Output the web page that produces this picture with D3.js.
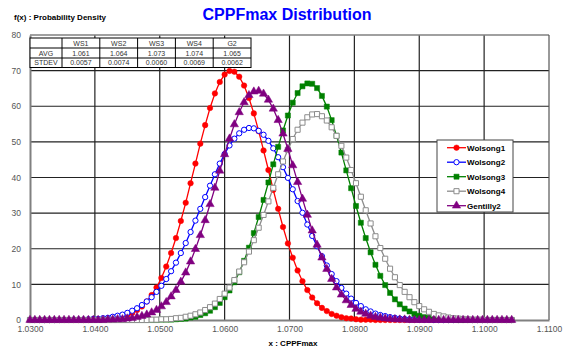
<!DOCTYPE html>
<html>
<head>
<meta charset="utf-8">
<script src="https://cdn.jsdelivr.net/npm/d3@7"></script>
<style>
  body { margin: 0; background: #fff; }
  svg { display: block; font-family: "Liberation Sans", Arial, sans-serif; }
</style>
</head>
<body>
<div id="chart"></div>
<script>
// x grid of the curves (CPPFmax)
var xValues = [
  1.03, 1.03075, 1.0315, 1.03225, 1.033, 1.03375, 1.0345, 1.03525, 1.036, 1.03675,
  1.0375, 1.03825, 1.039, 1.03975, 1.0405, 1.04125, 1.042, 1.04275, 1.0435, 1.04425,
  1.045, 1.04575, 1.0465, 1.04725, 1.048, 1.04875, 1.0495, 1.05025, 1.051, 1.05175,
  1.0525, 1.05325, 1.054, 1.05475, 1.0555, 1.05625, 1.057, 1.05775, 1.0585, 1.05925,
  1.06, 1.06075, 1.0615, 1.06225, 1.063, 1.06375, 1.0645, 1.06525, 1.066, 1.06675,
  1.0675, 1.06825, 1.069, 1.06975, 1.0705, 1.07125, 1.072, 1.07275, 1.0735, 1.07425,
  1.075, 1.07575, 1.0765, 1.07725, 1.078, 1.07875, 1.0795, 1.08025, 1.081, 1.08175,
  1.0825, 1.08325, 1.084, 1.08475, 1.0855, 1.08625, 1.087, 1.08775, 1.0885, 1.08925,
  1.09, 1.09075, 1.0915, 1.09225, 1.093, 1.09375, 1.0945, 1.09525, 1.096, 1.09675,
  1.0975, 1.09825, 1.099, 1.09975, 1.1005, 1.10125, 1.102, 1.10275, 1.1035, 1.10425
];

var wolsong1 = [
  0, 0, 0, 0, 0, 0, 0, 0, 0, 0,
  0, 0, 0, 0.1, 0.1, 0.2, 0.3, 0.4, 0.6, 0.9,
  1.4, 2.0, 2.8, 3.8, 5.2, 7.0, 9.1, 11.8, 15.0, 18.8,
  23.0, 27.8, 32.9, 38.4, 43.9, 49.5, 54.7, 59.5, 63.6, 66.8,
  68.9, 69.9, 69.7, 68.3, 65.8, 62.3, 58.0, 53.0, 47.6, 42.1,
  36.5, 31.2, 26.1, 21.5, 17.5, 13.9, 10.9, 8.4, 6.3, 4.7,
  3.4, 2.5, 1.7, 1.2, 0.8, 0.5, 0.4, 0.2, 0.1, 0.1,
  0.1, 0, 0, 0, 0, 0, 0, 0, 0, 0,
  0, 0, 0, 0, 0, 0, 0, 0, 0, 0,
  0, 0, 0, 0, 0, 0, 0, 0, 0, 0
];
var wolsong2 = [
  0, 0, 0, 0, 0, 0, 0, 0, 0, 0.1,
  0.1, 0.1, 0.2, 0.3, 0.3, 0.5, 0.6, 0.9, 1.2, 1.5,
  2.0, 2.6, 3.3, 4.2, 5.2, 6.4, 7.9, 9.6, 11.5, 13.7,
  16.1, 18.8, 21.6, 24.7, 27.9, 31.2, 34.5, 37.7, 40.9, 43.9,
  46.6, 49.0, 50.9, 52.4, 53.4, 53.9, 53.8, 53.1, 52.0, 50.3,
  48.2, 45.7, 42.9, 39.9, 36.7, 33.4, 30.1, 26.8, 23.6, 20.7,
  17.9, 15.3, 12.9, 10.9, 9.0, 7.4, 6.0, 4.8, 3.9, 3.0,
  2.4, 1.8, 1.4, 1.1, 0.8, 0.6, 0.4, 0.3, 0.2, 0.2,
  0.1, 0.1, 0.1, 0, 0, 0, 0, 0, 0, 0,
  0, 0, 0, 0, 0, 0, 0, 0, 0, 0
];
var wolsong3 = [
  0, 0, 0, 0, 0, 0, 0, 0, 0, 0,
  0, 0, 0, 0, 0, 0, 0, 0, 0, 0,
  0, 0, 0, 0, 0, 0, 0, 0.1, 0.1, 0.1,
  0.2, 0.3, 0.4, 0.7, 0.9, 1.4, 1.9, 2.6, 3.6, 4.8,
  6.4, 8.3, 10.6, 13.4, 16.6, 20.3, 24.4, 28.9, 33.7, 38.6,
  43.7, 48.6, 53.2, 57.4, 61.0, 63.7, 65.6, 66.4, 66.3, 65.1,
  62.9, 59.9, 56.1, 51.7, 47.0, 42.0, 37.0, 32.0, 27.3, 23.0,
  19.0, 15.5, 12.4, 9.8, 7.6, 5.8, 4.4, 3.2, 2.4, 1.7,
  1.2, 0.8, 0.6, 0.4, 0.3, 0.2, 0.1, 0.1, 0, 0,
  0, 0, 0, 0, 0, 0, 0, 0, 0, 0
];
var wolsong4 = [
  0, 0, 0, 0, 0, 0, 0, 0, 0, 0,
  0, 0, 0, 0, 0, 0, 0, 0, 0, 0,
  0, 0, 0, 0, 0, 0.1, 0.1, 0.2, 0.2, 0.3,
  0.5, 0.6, 0.9, 1.2, 1.6, 2.1, 2.8, 3.6, 4.6, 5.9,
  7.4, 9.1, 11.2, 13.6, 16.2, 19.2, 22.4, 25.9, 29.5, 33.3,
  37.1, 40.9, 44.5, 47.8, 50.8, 53.4, 55.4, 56.9, 57.7, 57.8,
  57.2, 56.0, 54.1, 51.7, 48.9, 45.6, 42.1, 38.4, 34.6, 30.8,
  27.1, 23.5, 20.2, 17.2, 14.4, 12.0, 9.8, 7.9, 6.4, 5.0,
  3.9, 3.0, 2.3, 1.7, 1.3, 1.0, 0.7, 0.5, 0.4, 0.3,
  0.2, 0.1, 0.1, 0.1, 0, 0, 0, 0, 0, 0
];
var gentilly2 = [
  0, 0, 0, 0, 0, 0, 0, 0, 0, 0,
  0, 0, 0, 0, 0, 0, 0.1, 0.1, 0.2, 0.2,
  0.4, 0.5, 0.8, 1.1, 1.5, 2.1, 2.8, 3.8, 5.0, 6.6,
  8.4, 10.7, 13.3, 16.4, 19.9, 23.8, 28.0, 32.5, 37.1, 41.9,
  46.5, 50.9, 54.9, 58.3, 61.1, 63.1, 64.1, 64.3, 63.5, 61.8,
  59.3, 56.1, 52.3, 48.0, 43.4, 38.7, 34.0, 29.5, 25.1, 21.1,
  17.5, 14.3, 11.5, 9.1, 7.1, 5.5, 4.2, 3.1, 2.3, 1.7,
  1.2, 0.8, 0.6, 0.4, 0.3, 0.2, 0.1, 0.1, 0, 0,
  0, 0, 0, 0, 0, 0, 0, 0, 0, 0,
  0, 0, 0, 0, 0, 0, 0, 0, 0, 0
];

var seriesNames = ["Wolsong1", "Wolsong2", "Wolsong3", "Wolsong4", "Gentilly2"];

// summary table
var tableHeads = ["WS1", "WS2", "WS3", "WS4", "G2"];
var tableAvg = ["1.061", "1.064", "1.073", "1.074", "1.065"];
var tableStdev = ["0.0057", "0.0074", "0.0060", "0.0069", "0.0062"];

var xTicks = [1.03, 1.04, 1.05, 1.06, 1.07, 1.08, 1.09, 1.10, 1.11];
var yTicks = [0, 10, 20, 30, 40, 50, 60, 70, 80];

var W = 565, H = 350;
var plotL = 30, plotR = 549, plotT = 35, plotB = 320;

var svg = d3.select("#chart").append("svg")
  .attr("width", W)
  .attr("height", H);

var x = d3.scaleLinear().domain([1.03, 1.11]).range([plotL, plotR]);
var y = d3.scaleLinear().domain([0, 80]).range([plotB, plotT]);

// grid lines
svg.append("g")
  .selectAll("line")
  .data(yTicks.slice(1, -1))
  .enter().append("line")
    .attr("x1", plotL).attr("x2", plotR)
    .attr("y1", function(d) { return y(d); })
    .attr("y2", function(d) { return y(d); })
    .attr("stroke", "#222").attr("stroke-width", 1.2);

svg.append("g")
  .selectAll("line")
  .data(xTicks.slice(1, -1))
  .enter().append("line")
    .attr("y1", plotT).attr("y2", plotB)
    .attr("x1", function(d) { return x(d); })
    .attr("x2", function(d) { return x(d); })
    .attr("stroke", "#222").attr("stroke-width", 1.2);

// plot frame
svg.append("line").attr("x1", plotL).attr("x2", plotR).attr("y1", plotT).attr("y2", plotT)
  .attr("stroke", "#808080").attr("stroke-width", 1.5);
svg.append("line").attr("x1", plotR).attr("x2", plotR).attr("y1", plotT).attr("y2", plotB)
  .attr("stroke", "#555").attr("stroke-width", 1.2);

// axes
var xAxis = svg.append("g")
  .attr("transform", "translate(0," + plotB + ")")
  .call(d3.axisBottom(x).tickValues(xTicks).tickFormat(d3.format(".4f")).tickSize(0).tickPadding(6));
var yAxis = svg.append("g")
  .attr("transform", "translate(" + plotL + ",0)")
  .call(d3.axisLeft(y).tickValues(yTicks).tickSize(0).tickPadding(9));

[xAxis, yAxis].forEach(function(a) {
  a.select(".domain").attr("stroke", "#808080").attr("stroke-width", 2);
  a.selectAll("text")
    .attr("fill", "#555")
    .style("font-size", "8.5px")
    .style("font-family", "'Liberation Sans', Arial, sans-serif");
});

// table
var colX = [30, 62, 99.8, 137.6, 175.4, 213.2, 251];
var rowY = [38, 48, 58, 67.5];
var tbl = svg.append("g");
tbl.append("rect")
  .attr("x", colX[0]).attr("y", rowY[0])
  .attr("width", colX[6] - colX[0]).attr("height", rowY[3] - rowY[0])
  .attr("fill", "#fff").attr("stroke", "#000").attr("stroke-width", 1);
rowY.slice(1, 3).forEach(function(r) {
  tbl.append("line").attr("x1", colX[0]).attr("x2", colX[6]).attr("y1", r).attr("y2", r)
    .attr("stroke", "#000").attr("stroke-width", 1);
});
colX.slice(1, 6).forEach(function(c) {
  tbl.append("line").attr("x1", c).attr("x2", c).attr("y1", rowY[0]).attr("y2", rowY[3])
    .attr("stroke", "#000").attr("stroke-width", 1);
});
var rows = [[""].concat(tableHeads), ["AVG"].concat(tableAvg), ["STDEV"].concat(tableStdev)];
rows.forEach(function(row, ri) {
  row.forEach(function(t, ci) {
    tbl.append("text")
      .attr("x", (colX[ci] + colX[ci + 1]) / 2)
      .attr("y", (rowY[ri] + rowY[ri + 1]) / 2 + 2.6)
      .attr("text-anchor", "middle")
      .attr("fill", "#333")
      .style("font-size", "7px")
      .text(t);
  });
});

// series
var seriesData = [wolsong1, wolsong2, wolsong3, wolsong4, gentilly2];
var colors = ["#ff0000", "#0000ff", "#008000", "#8c8c8c", "#800080"];
var symbols = [d3.symbolCircle, d3.symbolCircle, d3.symbolSquare, d3.symbolSquare, d3.symbolTriangle];
var symSize = [24, 22, 26, 26, 30];
var hollow = [false, true, false, true, false];

var line = d3.line()
  .x(function(d) { return x(d[0]); })
  .y(function(d) { return y(d[1]); });

seriesData.forEach(function(vals, si) {
  var pts = xValues.map(function(xv, i) { return [xv, vals[i]]; });
  var g = svg.append("g");
  g.append("path")
    .datum(pts)
    .attr("d", line)
    .attr("fill", "none")
    .attr("stroke", colors[si])
    .attr("stroke-width", 1.3);
  g.selectAll("path.m")
    .data(pts)
    .enter().append("path")
      .attr("class", "m")
      .attr("transform", function(d) { return "translate(" + x(d[0]) + "," + y(d[1]) + ")"; })
      .attr("d", d3.symbol().type(symbols[si]).size(symSize[si]))
      .attr("fill", hollow[si] ? "#fff" : colors[si])
      .attr("stroke", colors[si])
      .attr("stroke-width", hollow[si] ? 1 : 0.5);
});

// legend
var lg = svg.append("g");
lg.append("rect")
  .attr("x", 437).attr("y", 140).attr("width", 76).attr("height", 72)
  .attr("fill", "#fff").attr("stroke", "#444").attr("stroke-width", 1);
seriesNames.forEach(function(name, si) {
  var ly = 147.7 + si * 14.5;
  lg.append("line").attr("x1", 447).attr("x2", 466).attr("y1", ly).attr("y2", ly)
    .attr("stroke", colors[si]).attr("stroke-width", 1.3);
  lg.append("path")
    .attr("transform", "translate(456.5," + ly + ")")
    .attr("d", d3.symbol().type(symbols[si]).size(symSize[si]))
    .attr("fill", hollow[si] ? "#fff" : colors[si])
    .attr("stroke", colors[si])
    .attr("stroke-width", hollow[si] ? 1 : 0.5);
  lg.append("text")
    .attr("x", 467).attr("y", ly + 3)
    .attr("fill", "#000")
    .style("font-size", "8px")
    .style("font-weight", "bold")
    .text(name);
});

// titles
svg.append("text")
  .attr("x", 287).attr("y", 20)
  .attr("text-anchor", "middle")
  .attr("fill", "#0000ff")
  .style("font-size", "16px")
  .style("font-weight", "bold")
  .text("CPPFmax Distribution");

svg.append("text")
  .attr("x", 14).attr("y", 20)
  .attr("fill", "#000")
  .style("font-size", "8px")
  .style("font-weight", "bold")
  .text("f(x) : Probability Density");

svg.append("text")
  .attr("x", 293).attr("y", 346)
  .attr("text-anchor", "middle")
  .attr("fill", "#000")
  .style("font-size", "8px")
  .style("font-weight", "bold")
  .text("x : CPPFmax");
</script>
</body>
</html>
